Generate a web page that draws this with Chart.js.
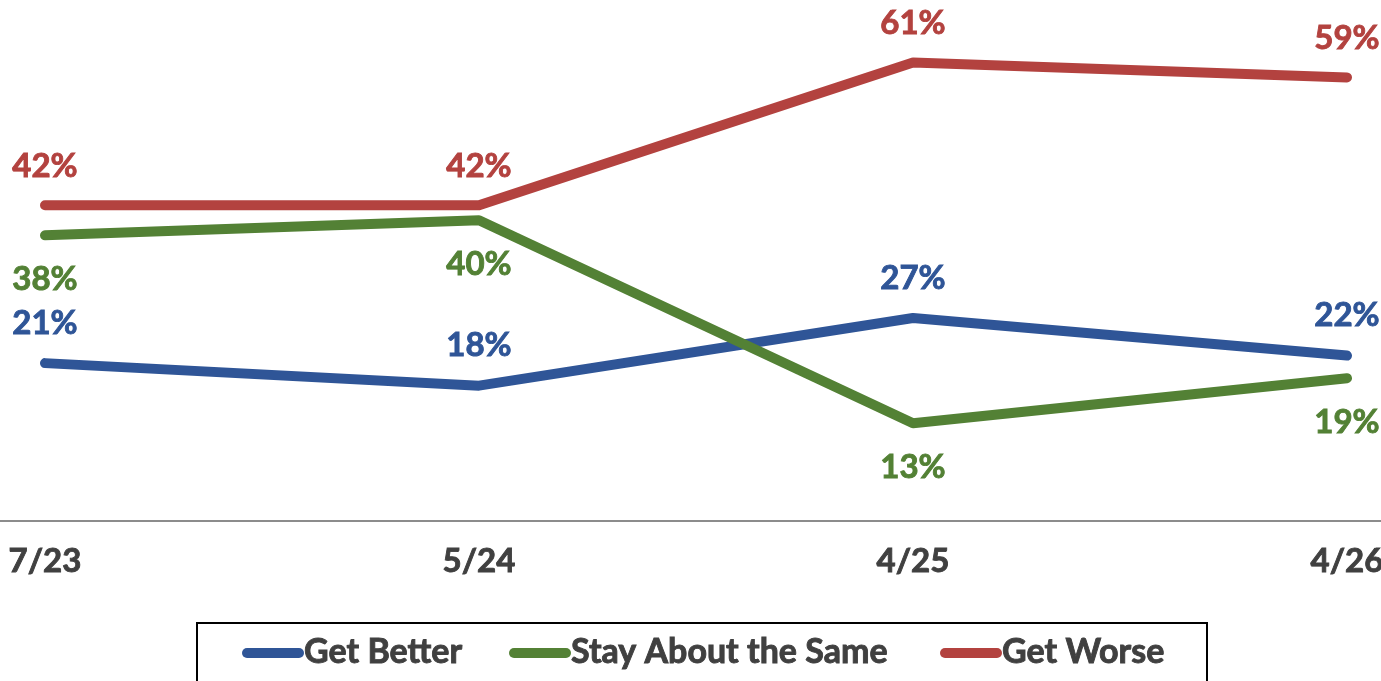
<!DOCTYPE html>
<html>
<head>
<meta charset="utf-8">
<script src="https://cdn.jsdelivr.net/npm/chart.js@4.4.0/dist/chart.umd.min.js"></script>
<style>
    html, body { margin: 0; padding: 0; background: #ffffff; }
    #wrap { width: 1381px; height: 681px; position: relative; }
</style>
</head>
<body>
<div id="wrap"><canvas id="lineChart" width="1381" height="681"></canvas></div>
<script>
        const categories = ['7/23', '5/24', '4/25', '4/26'];
        const getBetter = [21, 18, 27, 22];
        const staySame = [38, 40, 13, 19];
        const getWorse = [42, 42, 61, 59];
        const seriesNames = ['Get Better', 'Stay About the Same', 'Get Worse'];

        const BLUE = '#2F5597';
        const GREEN = '#538135';
        const RED = '#B3423F';
        const FONT = 'Lato, "Open Sans", sans-serif';

        // labels above or below each point (px offset from the point)
        const labelOffset = { 'Get Better': -40, 'Stay About the Same': 44, 'Get Worse': -39 };

        const pointLabels = {
            id: 'pointLabels',
            afterDatasetsDraw(chart) {
                const ctx = chart.ctx;
                ctx.save();
                ctx.font = 'bold 33px ' + FONT;
                ctx.textAlign = 'center';
                ctx.textBaseline = 'middle';
                ctx.lineWidth = 0.9;
                chart.data.datasets.forEach((ds, i) => {
                    const meta = chart.getDatasetMeta(i);
                    ctx.fillStyle = ds.borderColor;
                    ctx.strokeStyle = ds.borderColor;
                    meta.data.forEach((pt, j) => {
                        const t = ds.data[j] + '%';
                        const y = pt.y + labelOffset[ds.label];
                        ctx.fillText(t, pt.x, y);
                        ctx.strokeText(t, pt.x, y);
                    });
                });
                ctx.restore();
            }
        };

        const axisLine = {
            id: 'axisLine',
            beforeDatasetsDraw(chart) {
                const ctx = chart.ctx;
                const y = chart.scales.y.getPixelForValue(0);
                ctx.save();
                ctx.strokeStyle = '#8c8c8c';
                ctx.lineWidth = 2;
                ctx.beginPath();
                ctx.moveTo(0, y);
                ctx.lineTo(chart.width, y);
                ctx.stroke();
                ctx.restore();
            }
        };

        const boxLegend = {
            id: 'boxLegend',
            afterDraw(chart) {
                const ctx = chart.ctx;
                ctx.save();
                ctx.strokeStyle = '#000000';
                ctx.lineWidth = 2;
                ctx.strokeRect(197, 623, 1010, 70);
                const items = [
                    { name: seriesNames[0], color: BLUE, x: 243 },
                    { name: seriesNames[1], color: GREEN, x: 510 },
                    { name: seriesNames[2], color: RED, x: 941 }
                ];
                ctx.font = 'bold 34px ' + FONT;
                ctx.textBaseline = 'middle';
                ctx.textAlign = 'left';
                items.forEach(it => {
                    ctx.strokeStyle = it.color;
                    ctx.lineWidth = 10;
                    ctx.lineCap = 'round';
                    ctx.beginPath();
                    ctx.moveTo(it.x + 4, 653);
                    ctx.lineTo(it.x + 56, 653);
                    ctx.stroke();
                    ctx.fillStyle = '#404040';
                    ctx.strokeStyle = '#404040';
                    ctx.lineWidth = 0.9;
                    ctx.fillText(it.name, it.x + 61, 652);
                    ctx.strokeText(it.name, it.x + 61, 652);
                });
                ctx.restore();
            }
        };

        function lineSet(label, data, color) {
            return {
                label: label,
                data: data,
                borderColor: color,
                backgroundColor: color,
                borderWidth: 10,
                borderCapStyle: 'round',
                borderJoinStyle: 'round',
                pointRadius: 0,
                tension: 0,
                fill: false
            };
        }

        const ctx = document.getElementById('lineChart').getContext('2d');
        window.lineChart = new Chart(ctx, {
            type: 'line',
            data: {
                labels: categories,
                datasets: [
                    lineSet(seriesNames[2], getWorse, RED),
                    lineSet(seriesNames[1], staySame, GREEN),
                    lineSet(seriesNames[0], getBetter, BLUE)
                ]
            },
            options: {
                responsive: false,
                animation: false,
                layout: { padding: { left: 45, right: 34, top: 0, bottom: 0 } },
                plugins: {
                    legend: { display: false },
                    tooltip: { enabled: false }
                },
                scales: {
                    x: {
                        offset: false,
                        grid: { display: false, drawTicks: false },
                        border: { display: false },
                        ticks: {
                            padding: 21,
                            color: '#404040',
                            textStrokeColor: '#404040',
                            textStrokeWidth: 0.9,
                            font: { family: FONT, size: 33, weight: 'bold' },
                            maxRotation: 0
                        },
                        afterFit(scale) {
                            scale.height = 160;
                            scale.paddingLeft = 0;
                            scale.paddingRight = 0;
                        }
                    },
                    y: {
                        display: false,
                        min: 0,
                        max: 69.3
                    }
                }
            },
            plugins: [axisLine, pointLabels, boxLegend]
        });
</script>
</body>
</html>
